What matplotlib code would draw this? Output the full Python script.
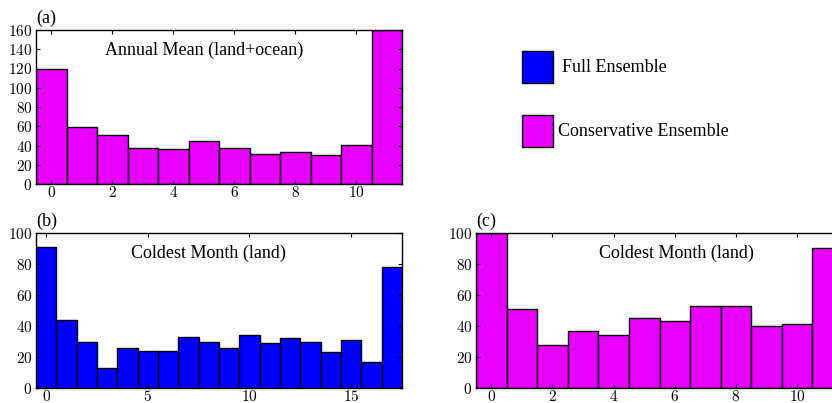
import numpy as np
import matplotlib.pyplot as plt

# histogram counts
bins_a = np.arange(12)
annual_cons = [120, 59, 51, 37, 36, 45, 37, 31, 33, 30, 41, 160]

bins_b = np.arange(18)
coldest_full = [91, 44, 30, 13, 26, 24, 24, 33, 30, 26, 34, 29, 32, 30, 23, 31, 17, 78]

bins_c = np.arange(12)
coldest_cons = [100, 51, 28, 37, 34, 45, 43, 53, 53, 40, 41, 90]

blue = '#0000FF'
magenta = '#E800FF'
serif = ['Liberation Serif', 'DejaVu Serif']
W, H = 832, 403

plt.rcParams['font.family'] = serif
plt.rcParams['axes.formatter.use_mathtext'] = True

fig = plt.figure(figsize=(W / 100, H / 100), dpi=100)


def box(x0, y0, x1, y1):
    # pixel box -> figure fraction
    return [x0 / W, 1 - y1 / H, (x1 - x0) / W, (y1 - y0) / H]


def panel(rect, bins, counts, color, ymax, xticks, ystep, title, title_x, tag):
    ax = fig.add_axes(rect)
    ax.bar(bins, counts, width=1.0, color=color, edgecolor='black', linewidth=1.0)
    ax.set_xlim(bins[0] - 0.5, bins[-1] + 0.5)
    ax.set_ylim(0, ymax)
    ax.set_xticks(xticks)
    ax.set_yticks(np.arange(0, ymax + 1, ystep))
    ax.tick_params(direction='in', top=True, right=True, length=3, width=0.8,
                   labelsize=11)
    ax.tick_params(axis='x', pad=0.5)
    ax.tick_params(axis='y', pad=2.5)
    for lab in ax.get_xticklabels() + ax.get_yticklabels():
        lab.set_fontfamily('cmr10')
    for s in ax.spines.values():
        s.set_linewidth(1.0)
    ax.text(title_x, 0.87, title, transform=ax.transAxes, ha='center', va='center',
            fontsize=13)
    ax.text(0.0, 1.02, tag, transform=ax.transAxes, ha='left', va='bottom',
            fontsize=13)
    return ax


panel(box(36, 30, 402, 184), bins_a, annual_cons, magenta, 160, [0, 2, 4, 6, 8, 10],
      20, 'Annual Mean (land+ocean)', 0.46, '(a)')
panel(box(36, 233, 402, 388), bins_b, coldest_full, blue, 100, [0, 5, 10, 15],
      20, 'Coldest Month (land)', 0.47, '(b)')
panel(box(476, 233, 843, 388), bins_c, coldest_cons, magenta, 100, [0, 2, 4, 6, 8, 10],
      20, 'Coldest Month (land)', 0.545, '(c)')

# legend drawn as squares + text
for (y0, y1), col, label, tx in [((51, 83), blue, 'Full Ensemble', 562),
                                 ((115, 147), magenta, 'Conservative Ensemble', 558)]:
    fig.patches.append(plt.Rectangle((522 / W, 1 - y1 / H), 31 / W, (y1 - y0) / H,
                                     transform=fig.transFigure, facecolor=col,
                                     edgecolor='black', linewidth=1.0))
    fig.text(tx / W, 1 - (y0 + y1) / 2 / H, label, ha='left', va='center', fontsize=13)

fig.savefig('out.png', dpi=100)
